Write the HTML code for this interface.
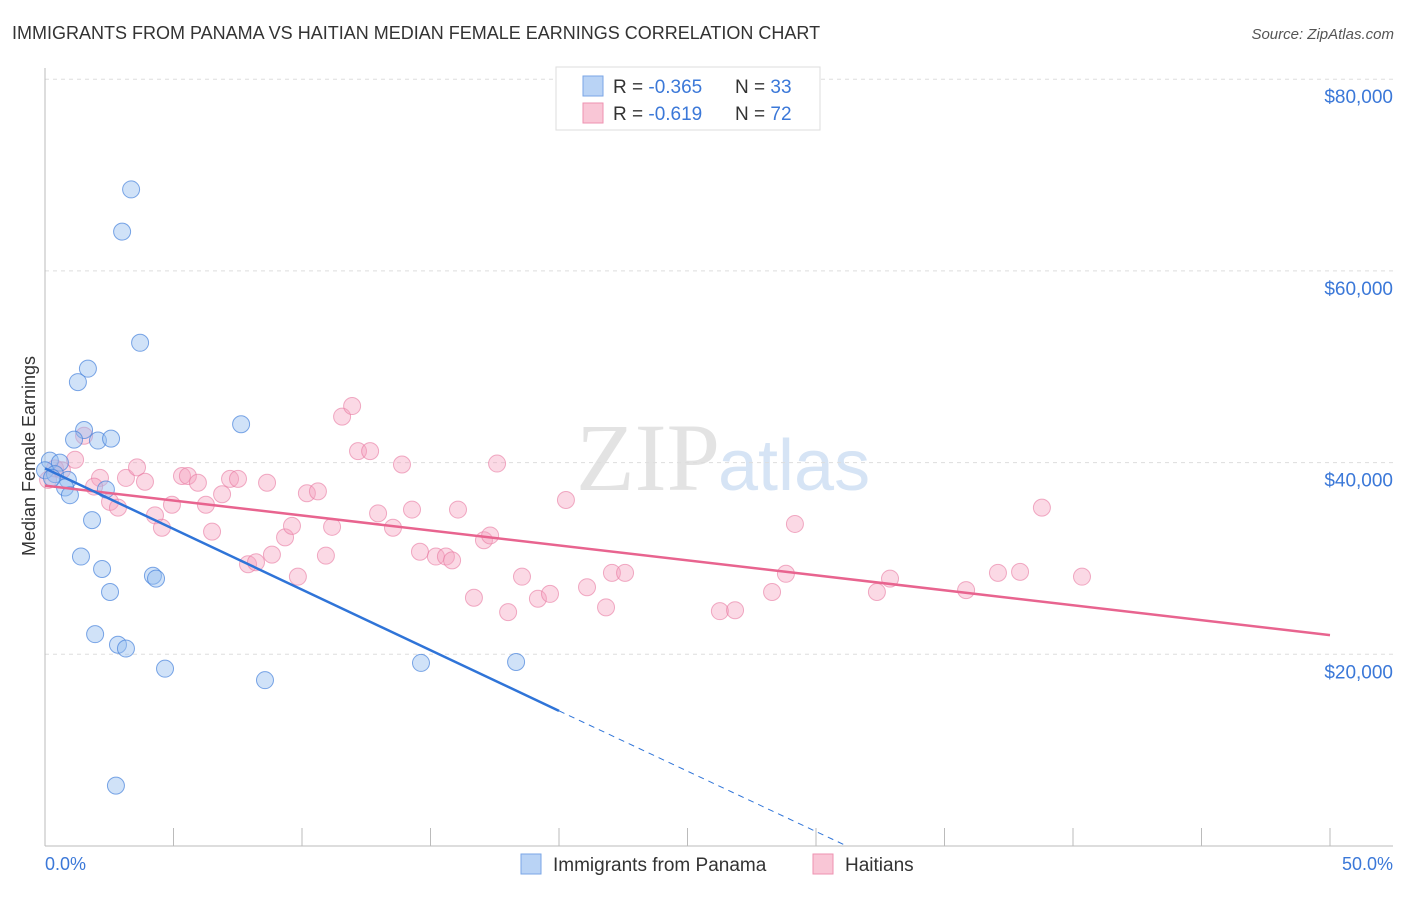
<!DOCTYPE html>
<html><head><meta charset="utf-8"><style>
body{margin:0;background:#fff;font-family:"Liberation Sans",sans-serif;}
</style></head><body>
<svg width="1406" height="892" xmlns="http://www.w3.org/2000/svg" font-family="Liberation Sans, sans-serif">
<text x="12" y="39" font-size="18" fill="#333">IMMIGRANTS FROM PANAMA VS HAITIAN MEDIAN FEMALE EARNINGS CORRELATION CHART</text>
<text x="1394" y="39" font-size="15" fill="#555" font-style="italic" text-anchor="end">Source: ZipAtlas.com</text>
<text x="720" y="490" font-size="96" fill="#e3e3e3" text-anchor="end" font-family="Liberation Serif, serif">ZIP</text>
<text x="718" y="490" font-size="72" fill="#d6e4f5">atlas</text>
<g id="grid"></g><g id="axes"></g><g id="pts"></g><g id="trends"></g>
<text x="35" y="456" font-size="18" fill="#333" text-anchor="middle" transform="rotate(-90 35 456)">Median Female Earnings</text>
<text x="45" y="870" font-size="18" fill="#3b78d8">0.0%</text>
<text x="1393" y="870" font-size="18" fill="#3b78d8" text-anchor="end">50.0%</text>
<g>
<rect x="556" y="67" width="264" height="63" fill="#fff" stroke="#ddd"/>
<rect x="583" y="76" width="20" height="20" fill="#b9d3f5" stroke="#7aa6e6"/>
<rect x="583" y="103" width="20" height="20" fill="#f9c6d6" stroke="#ee92b0"/>
<text x="613" y="93" font-size="19" fill="#333">R = <tspan fill="#3b78d8">-0.365</tspan><tspan x="735">N = </tspan><tspan fill="#3b78d8">33</tspan></text>
<text x="613" y="120" font-size="19" fill="#333">R = <tspan fill="#3b78d8"> -0.619</tspan><tspan x="735">N = </tspan><tspan fill="#3b78d8">72</tspan></text>
</g>
<g>
<rect x="521" y="854" width="20" height="20" fill="#b9d3f5" stroke="#7aa6e6"/>
<text x="553" y="871" font-size="19" fill="#333">Immigrants from Panama</text>
<rect x="813" y="854" width="20" height="20" fill="#f9c6d6" stroke="#ee92b0"/>
<text x="845" y="871" font-size="19" fill="#333">Haitians</text>
</g>
</svg>
<script>
const yTicks=[20000,40000,60000,80000];
const yTickLabels=["$20,000","$40,000","$60,000","$80,000"];
const xTicks=[0,5,10,15,20,25,30,35,40,45,50];
const panamaX=[3.35,3.0,3.7,1.67,1.28,7.63,1.52,1.13,2.06,2.57,0.19,0.58,0,0.39,0.89,0.78,0.97,2.37,1.83,1.40,2.22,2.53,4.2,4.32,1.95,2.84,3.15,4.67,8.56,14.63,18.33,2.76,0.27];
const panamaY=[68500,64100,52500,49800,48400,44000,43400,42400,42300,42500,40200,40000,39200,38800,38200,37400,36600,37200,34000,30200,28900,26500,28200,27900,22100,21000,20600,18500,17300,19100,19200,6300,38400];
const haitiX=[0.12,0.39,0.66,1.17,1.52,2.14,1.91,2.53,2.84,3.15,3.58,3.89,4.28,4.55,4.94,5.33,5.56,5.95,6.26,6.5,6.89,7.2,7.51,7.9,8.21,8.64,8.83,9.34,9.61,9.84,10.19,10.62,10.93,11.17,11.56,11.95,12.18,12.65,12.96,13.54,13.89,14.28,14.59,15.21,15.6,15.84,16.07,16.69,17.08,17.32,17.59,18.02,18.56,19.18,19.65,20.27,21.09,21.83,22.06,22.57,26.26,26.85,28.29,28.83,29.18,32.37,32.88,35.84,37.08,37.94,38.79,40.35];
const haitiY=[38200,39400,39200,40300,42800,38400,37500,35900,35300,38400,39500,38000,34500,33200,35600,38600,38600,37900,35600,32800,36700,38300,38300,29400,29600,37900,30400,32200,33400,28100,36800,37000,30300,33300,44800,45900,41200,41200,34700,33200,39800,35100,30700,30200,30200,29800,35100,25900,31900,32400,39900,24400,28100,25800,26300,36100,27000,24900,28500,28500,24500,24600,26500,28400,33600,26500,27900,26700,28500,28600,35300,28100];
const panamaTrend=[[0,39400],[20,14100],[31.2,0]];
const haitiTrend=[[0,37600],[50,22000]];
const NS="http://www.w3.org/2000/svg";
const X=v=>45+v/50*1285, Y=v=>846-v/20000*191.7;
function mk(t,a,p){const e=document.createElementNS(NS,t);for(const k in a)e.setAttribute(k,a[k]);p.appendChild(e);return e;}
const grid=document.getElementById('grid'),axes=document.getElementById('axes'),pts=document.getElementById('pts'),tr=document.getElementById('trends');
yTicks.forEach((v,i)=>{
 const l=mk('line',{x1:45,x2:1393,y1:Y(v),y2:Y(v),stroke:'#ddd','stroke-dasharray':'4 4'},grid);
 
 
 const t=mk('text',{x:1393,y:Y(v)+24,'font-size':19,fill:'#3b78d8','text-anchor':'end'},grid);
 t.textContent=yTickLabels[i];
 
 
});
const ya=mk('line',{x1:45,x2:45,y1:68,y2:846,stroke:'#bbb'},axes);


const xa=mk('line',{x1:45,x2:1393,y1:846,y2:846,stroke:'#bbb'},axes);


xTicks.forEach(v=>{const t=mk('line',{x1:X(v),x2:X(v),y1:828,y2:846,stroke:'#bbb'},axes);
 
 });
haitiX.forEach((x,i)=>{const c=mk('circle',{cx:X(x),cy:Y(haitiY[i]),r:8.5,fill:'rgba(245,160,190,0.4)',stroke:'rgba(232,120,160,0.6)','stroke-width':1},pts);
 
 });
panamaX.forEach((x,i)=>{const c=mk('circle',{cx:X(x),cy:Y(panamaY[i]),r:8.5,fill:'rgba(150,190,240,0.45)',stroke:'rgba(70,130,220,0.7)','stroke-width':1},pts);
 
 });
const pl=mk('line',{x1:X(haitiTrend[0][0]),y1:Y(haitiTrend[0][1]),x2:X(haitiTrend[1][0]),y2:Y(haitiTrend[1][1]),stroke:'#e8648f','stroke-width':2.5},tr);


const bl=mk('line',{x1:X(panamaTrend[0][0]),y1:Y(panamaTrend[0][1]),x2:X(panamaTrend[1][0]),y2:Y(panamaTrend[1][1]),stroke:'#2f74d8','stroke-width':2.5},tr);


const bd=mk('line',{x1:X(panamaTrend[1][0]),y1:Y(panamaTrend[1][1]),x2:X(panamaTrend[2][0]),y2:Y(panamaTrend[2][1]),stroke:'#2f74d8','stroke-width':1,'stroke-dasharray':'6 5'},tr);


</script>
</body></html>
